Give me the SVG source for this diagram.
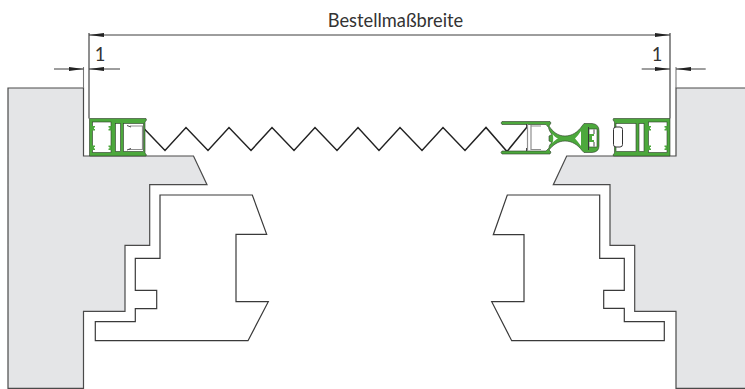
<svg xmlns="http://www.w3.org/2000/svg" width="745" height="389" viewBox="0 0 745 389">
<style>
.wall{fill:#e4e5e7;stroke:#4a4a4a;stroke-width:1.2}
.sash{fill:#fff;stroke:#3a3a3a;stroke-width:1.2}
.dim{fill:none;stroke:#3c3c3c;stroke-width:1}
.ext{fill:none;stroke:#333;stroke-width:1.1}
.ext2{fill:none;stroke:#777;stroke-width:1.1}
.g{fill:#4ca83c;stroke:#2c3a28;stroke-width:.6}
.gn{fill:#4ca83c}
.w{fill:#fff;stroke:#2c3a28;stroke-width:.6}
.gray{fill:none;stroke:#8f8f8f;stroke-width:1.2}
.dk{fill:none;stroke:#333;stroke-width:.9}
.zig{fill:none;stroke:#222;stroke-width:1.5;stroke-linejoin:miter}
text{font-family:Lato,"Open Sans","Liberation Sans",sans-serif;font-size:18.3px;fill:#333}
</style>
<defs>
<marker id="arrow" markerUnits="userSpaceOnUse" markerWidth="16" markerHeight="6" refX="15" refY="3" orient="auto-start-reverse">
<path d="M15,3 L0,.9 V5.1 Z" fill="#222"/>
</marker>
<g id="frame">
<path class="g" d="M89.5,118.5 H146 L146.5,120 L145,122 V153 L146.5,155 L146,156 H89.5 Z"/>
<rect class="w" x="92.5" y="122" width="18.5" height="30.5"/>
<rect class="w" x="115.5" y="123.5" width="5" height="28"/>
<rect class="w" x="123.5" y="123.5" width="20" height="28"/>
<path class="gn" d="M92,126 h3 v1.5 h-1 v1.5 h1 v1.5 h-3 Z M92,145.5 h3 v1.5 h-1 v1.5 h1 v1.5 h-3 Z M111.5,126 h-3 v1.5 h1 v1.5 h-1 v1.5 h3 Z M111.5,145.5 h-3 v1.5 h1 v1.5 h-1 v1.5 h3 Z"/>
</g>
</defs>

<g id="wall-left"><path class="wall" d="M8,88 H83.5 V156 H193.5 L207,184.7 H149.7 V245.3 H125 V311.3 H83.5 V388.3 H8 Z"/></g>
<g id="wall-right"><path class="wall" d="M747,88 H676 V156 H566.7 L553.3,184.7 H610 V245.3 H634.7 V311.3 H676 V388.3 H747 Z"/></g>
<g id="sash-left"><path class="sash" d="M160,195 H252.3 L266.7,234.3 H236 V301.7 H268.3 L248,340.7 H95.3 V321.7 H135.3 V308.7 H156.7 V290.3 H135.3 V258.3 H160 Z"/></g>
<g id="sash-right"><path class="sash" d="M507.3,195 H599.7 V258.3 H624.3 V290.3 H603.7 V308.3 H624.3 V321.7 H664.3 V340.7 H511.7 L491.7,301.7 H524 V234.7 H493.3 Z"/></g>

<g id="seal"><path class="zig" d="M142,126.5 L165,150.5 L186,127.5 L208,150.5 L229,127.5 L251,150.5 L272,127.5 L294,150.5 L315,127.5 L337,150.5 L358,127.5 L379,150.5 L400,127.5 L422,150.5 L443,127.5 L465,150.5 L486,127.5 L507,151.5 L527,127"/></g>

<g id="profile-left">
<use href="#frame"/>
<path class="gray" d="M130,126 H142.5 V149.5 H129"/>
<path class="dk" d="M127,125.5 L131,127 M127,150 L131,148.5"/>
</g>

<g id="profile-right">
<use href="#frame" transform="translate(759.5 0) scale(-1 1)"/>
<rect x="613.5" y="127" width="9" height="20" rx="2.5" fill="#fff" stroke="#333" stroke-width="1"/>
</g>

<g id="profile-middle">
<path class="g" d="M502,121.5 H550 L551,123 L549,126 C553,132 558,136 565,136 C572,136 578,132 582,126 L584,123.5 H592 Q599,124 599,131 V146 Q599,152 592,152.5 H584 L582,150.5 C578,145 572,141 565,141 C558,141 553,145 549,150 L551,152 L550,154 H502 L501,152.5 L502,151 H546 L549,148 C549,146 550,144 552,142.5 L549,141 V136 L552,134.5 C550,132 549,130 548.5,127.5 L546,124.5 H502 L501,123 Z" stroke-linejoin="round"/>
<path fill="#fff" d="M552.5,134 C554,136 556,137.5 558,138.5 C556,139.5 554,141 552.5,143 C553.5,140 553.5,137 552.5,134 Z"/>
<path d="M575,138.5 C577,136.5 579,134 581,131 C581,136 581,141 581,146 C579,143 577,141 575,138.5 Z" fill="#fff"/>
<rect class="w" x="589" y="129" width="8" height="18"/>
<path class="gn" d="M589,134 h5 v2 h-2 v4 h2 v2 h-5 Z"/>
<path class="dk" d="M594,129.5 V134 M594,142 V146.5 M588.5,127 V150"/>
<path class="gray" d="M527.5,124 V151 M531,125 V150"/>
<path class="gray" d="M531,126 H541 M531,149.5 H541"/>
<path class="dk" d="M526.5,124 V127 M526.5,148 V151"/>
</g>

<g id="connectors">
<path class="ext" d="M89,33 V118.5"/>
<path class="ext" d="M670,33 V118.5"/>
<path class="ext2" d="M83.5,67 V88"/>
<path class="ext2" d="M676,67 V88"/>
<line class="dim" x1="89" y1="35" x2="670" y2="35" marker-start="url(#arrow)" marker-end="url(#arrow)"/>
<line class="dim" x1="54" y1="69" x2="83.5" y2="69" marker-end="url(#arrow)"/>
<line class="dim" x1="120" y1="69" x2="89" y2="69" marker-end="url(#arrow)"/>
<line class="dim" x1="641.7" y1="69" x2="670" y2="69" marker-end="url(#arrow)"/>
<line class="dim" x1="705.7" y1="69" x2="676" y2="69" marker-end="url(#arrow)"/>
</g>

<text id="label-width" x="395.5" y="27" text-anchor="middle">Bestellmaßbreite</text>
<text id="label-left" x="100" y="61" text-anchor="middle">1</text>
<text id="label-right" x="657" y="61" text-anchor="middle">1</text>
</svg>
